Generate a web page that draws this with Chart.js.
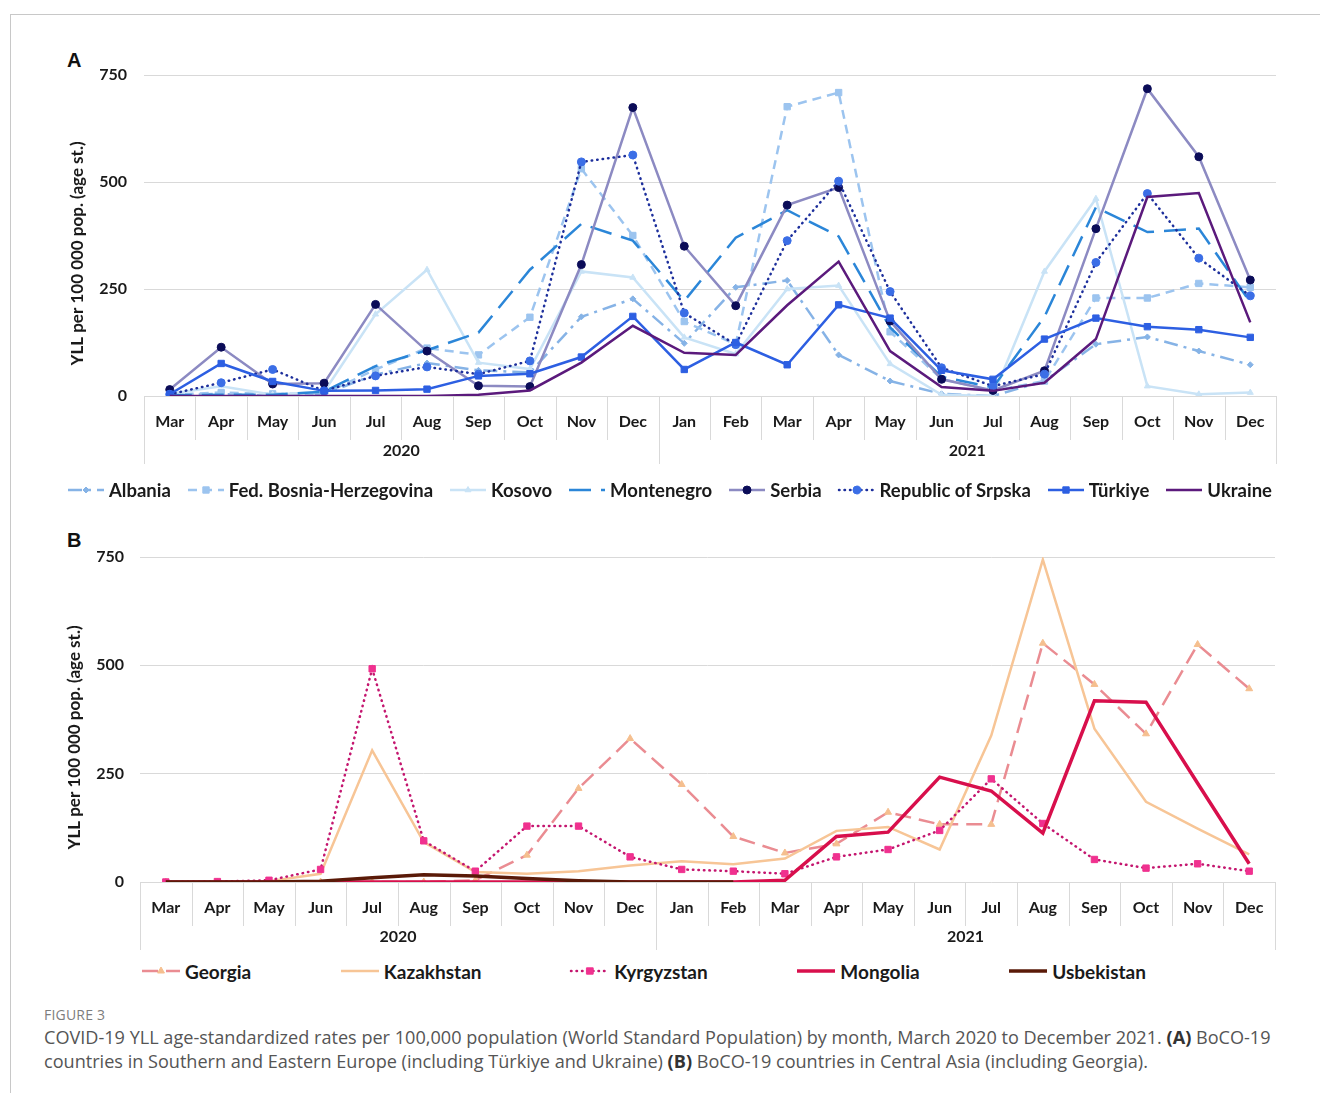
<!DOCTYPE html>
<html>
<head>
<meta charset="utf-8">
<title>COVID-19 YLL age-standardized rates by month</title>
<script src="https://cdn.jsdelivr.net/npm/chart.js@4.4.1/dist/chart.umd.min.js"></script>
<style>
  html, body { margin: 0; padding: 0; background: #fff; }
  body { width: 1320px; height: 1093px; position: relative; overflow: hidden; font-family: Lato, sans-serif; }
  .frame { position: absolute; left: 10px; top: 14px; width: 1320px; height: 1100px;
           border-left: 1px solid #c8c8c8; border-top: 1px solid #c8c8c8; }
  .panel { position: absolute; left: 0; width: 1320px; height: 440px; }
  .tag { position: absolute; font: bold 20px "Liberation Sans", Arial, sans-serif; line-height: 20px; color: #111; }
  .legend { position: absolute; display: flex; justify-content: space-between; align-items: center;
            height: 22px; font-family: Lato, sans-serif; font-weight: 700; color: #1a1a1a; }
  .item { display: flex; align-items: center; white-space: nowrap; }
  .item canvas { margin-right: 3px; }
  .fig { position: absolute; left: 44px; top: 1005px; font: 14px "Open Sans", sans-serif; color: #7d7d7d; letter-spacing: 0.2px; }
  .cap { position: absolute; left: 44px; top: 1025px; font: 18.1px/24px "Open Sans", sans-serif; color: #555; white-space: nowrap; }
  .cap b { color: #333; }
</style>
</head>
<body>
<div class="frame"></div>

<div class="tag" style="left:67px;top:50px;">A</div>
<div class="panel" style="top:40px;"><canvas id="chartA" width="1320" height="440"></canvas></div>
<div class="legend" id="legendA" style="left:66px;top:479px;width:1206px;font-size:18.5px;"></div>

<div class="tag" style="left:67px;top:530px;">B</div>
<div class="panel" style="top:520px;"><canvas id="chartB" width="1320" height="440"></canvas></div>
<div class="legend" id="legendB" style="left:140px;top:960px;width:1006px;font-size:19px;"></div>

<div class="fig">FIGURE 3</div>
<div class="cap">COVID-19 YLL age-standardized rates per 100,000 population (World Standard Population) by month, March 2020 to December 2021. <b>(A)</b> BoCO-19<br>countries in Southern and Eastern Europe (including Türkiye and Ukraine) <b>(B)</b> BoCO-19 countries in Central Asia (including Georgia).</div>

<script>
// ---- Category axis: months, grouped by year ----
const months = ['Mar','Apr','May','Jun','Jul','Aug','Sep','Oct','Nov','Dec',
                'Jan','Feb','Mar','Apr','May','Jun','Jul','Aug','Sep','Oct','Nov','Dec'];
const years = ['2020', '2021'];
const monthsPerYear = [10, 12];
const yTicks = [0, 250, 500, 750];
const yTitle = 'YLL per 100 000 pop. (age st.)';

// ---- Panel A: Southern and Eastern Europe ----
const albania    = [2, 5, 0, 5, 50, 77, 60, 55, 185, 227, 123, 254, 270, 96, 35, 5, 0, 35, 121, 138, 105, 73];
const fedBosnia  = [3, 8, 5, 5, 62, 112, 96, 184, 531, 375, 174, 121, 676, 709, 150, 40, 12, 35, 229, 229, 263, 254];
const kosovo     = [5, 23, 3, 10, 191, 295, 78, 63, 291, 277, 137, 98, 250, 258, 75, 3, 0, 291, 461, 23, 4, 8];
const montenegro = [2, 3, 3, 10, 70, 107, 148, 295, 402, 363, 222, 370, 434, 373, 160, 45, 20, 185, 441, 383, 391, 219];
const serbia     = [15, 114, 28, 30, 214, 105, 24, 22, 307, 674, 350, 211, 446, 487, 175, 39, 13, 59, 391, 718, 559, 271];
const srpska     = [4, 31, 62, 12, 47, 68, 51, 82, 547, 563, 194, 120, 363, 502, 244, 66, 23, 51, 312, 473, 322, 234];
const turkiye    = [4, 76, 34, 12, 13, 16, 47, 52, 91, 186, 62, 125, 73, 213, 182, 60, 39, 133, 182, 162, 155, 137];
const ukraine    = [0, 0, 0, 0, 0, 0, 3, 13, 78, 164, 101, 96, 212, 314, 105, 21, 12, 31, 133, 465, 474, 172];

// ---- Panel B: Central Asia (incl. Georgia) ----
const georgia    = [0, 0, 0, 0, 0, 0, 4, 62, 216, 331, 225, 105, 67, 88, 161, 133, 133, 551, 456, 342, 548, 446];
const kazakhstan = [0, 0, 2, 19, 304, 92, 23, 19, 25, 38, 48, 41, 54, 118, 127, 75, 338, 744, 354, 185, 123, 64];
const kyrgyzstan = [0, 1, 4, 29, 492, 95, 25, 129, 129, 58, 29, 25, 19, 58, 75, 119, 238, 135, 52, 32, 42, 25];
const mongolia   = [0, 0, 0, 0, 0, 0, 0, 0, 0, 0, 0, 0, 4, 105, 115, 242, 210, 113, 418, 415, 228, 42];
const uzbekistan = [0, 0, 0, 2, 10, 17, 14, 8, 3, 0, 0, 0, null, null, null, null, null, null, null, null, null, null];

// ---- Series styles ----
function line(label, data, color, extra) {
  return Object.assign({
    label, data,
    borderColor: color, backgroundColor: color,
    pointBackgroundColor: color, pointBorderColor: color,
    borderWidth: 2.5, tension: 0, pointRadius: 0, pointBorderWidth: 1,
    pointHoverRadius: 0, fill: false, spanGaps: false
  }, extra || {});
}

const seriesA = [
  line('Albania', albania, '#86b3e6', { borderDash: [14, 6, 3, 6], pointStyle: 'rectRot', pointRadius: 3 }),
  line('Fed. Bosnia-Herzegovina', fedBosnia, '#9cc4ef', { borderDash: [9, 6], pointStyle: 'rect', pointRadius: 4.5 }),
  line('Kosovo', kosovo, '#c9e3f6', { pointStyle: 'triangle', pointRadius: 3.5 }),
  line('Montenegro', montenegro, '#2b86d8', { borderDash: [22, 10] }),
  line('Serbia', serbia, '#8c8ac2', { pointStyle: 'circle', pointRadius: 4, pointBackgroundColor: '#0b0c58', pointBorderColor: '#0b0c58' }),
  line('Republic of Srpska', srpska, '#1d2f9c', { borderDash: [0.5, 5], borderCapStyle: 'round', pointStyle: 'circle', pointRadius: 4,
       pointBackgroundColor: '#3b6ee6', pointBorderColor: '#3b6ee6' }),
  line('Türkiye', turkiye, '#2d5fe2', { pointStyle: 'rect', pointRadius: 4.5 }),
  line('Ukraine', ukraine, '#5b1a7c', {})
];

const seriesB = [
  line('Georgia', georgia, '#ea8c92', { borderDash: [16, 8], pointStyle: 'triangle', pointRadius: 4,
       pointBackgroundColor: '#f5bf8f', pointBorderColor: '#f5bf8f' }),
  line('Kazakhstan', kazakhstan, '#f7c596', {}),
  line('Kyrgyzstan', kyrgyzstan, '#c4166f', { borderDash: [0.5, 5], borderCapStyle: 'round', pointStyle: 'rect', pointRadius: 4.5,
       pointBackgroundColor: '#f0318f', pointBorderColor: '#f0318f' }),
  line('Mongolia', mongolia, '#d80f4c', { borderWidth: 3.5 }),
  line('Usbekistan', uzbekistan, '#5a1a08', { borderWidth: 3.5 })
];

// later series are drawn on top
[seriesA, seriesB].forEach(list => list.forEach((ds, i) => { ds.order = list.length - 1 - i; }));

// ---- Two-level category axis, y-axis title ----
const axisDecor = {
  id: 'axisDecor',
  afterDraw(chart, args, opts) {
    const { ctx, chartArea: ca, scales: { x } } = chart;
    const base = ca.bottom;
    const edges = [0];
    monthsPerYear.forEach(n => edges.push(edges[edges.length - 1] + n));
    ctx.save();
    ctx.strokeStyle = '#d9d9d9';
    ctx.lineWidth = 1;
    for (let i = 0; i <= months.length; i++) {
      const px = Math.round(x.getPixelForValue(i - 0.5)) + 0.5;
      const isYearEdge = edges.includes(i);
      ctx.beginPath();
      ctx.moveTo(px, base);
      ctx.lineTo(px, base + (isYearEdge ? opts.yearDepth : opts.monthDepth));
      ctx.stroke();
    }
    ctx.fillStyle = '#1a1a1a';
    ctx.font = '700 16px Lato, sans-serif';
    ctx.textAlign = 'center';
    ctx.textBaseline = 'middle';
    years.forEach((yr, k) => {
      const a = x.getPixelForValue(edges[k] - 0.5);
      const b = x.getPixelForValue(edges[k + 1] - 0.5);
      ctx.fillText(yr, (a + b) / 2, base + opts.yearOffset);
    });
    ctx.translate(opts.titleX, (ca.top + ca.bottom) / 2 + opts.titleShift);
    ctx.rotate(-Math.PI / 2);
    ctx.font = '700 17px Lato, sans-serif';
    ctx.fillText(yTitle, 0, 0);
    ctx.restore();
  }
};

function makeChart(id, datasets, geo) {
  return new Chart(document.getElementById(id), {
    type: 'line',
    data: { labels: months, datasets },
    plugins: [axisDecor],
    options: {
      responsive: false,
      animation: false,
      events: [],
      layout: { padding: { top: geo.top, right: geo.right, left: 0, bottom: 0 } },
      plugins: {
        legend: { display: false },
        tooltip: { enabled: false },
        axisDecor: { titleX: geo.titleX, titleShift: 18, monthDepth: 44, yearDepth: 68, yearOffset: 55 }
      },
      scales: {
        x: {
          type: 'category',
          offset: true,
          grid: { display: false },
          border: { display: false },
          ticks: { autoSkip: false, maxRotation: 0, padding: 8, color: '#1a1a1a',
                   font: { family: 'Lato', weight: 700, size: 16 } },
          afterFit(s) { s.height = geo.xHeight; }
        },
        y: {
          min: 0, max: 750,
          afterBuildTicks(s) { s.ticks = yTicks.map(v => ({ value: v })); },
          grid: { color: '#d9d9d9', lineWidth: 1, drawTicks: false },
          border: { display: false },
          ticks: { padding: geo.tickPad, color: '#1a1a1a',
                   font: { family: 'Lato', weight: 700, size: 16 } },
          afterFit(s) { s.width = geo.yWidth; }
        }
      }
    }
  });
}

const chartA = makeChart('chartA', seriesA, { top: 35, right: 44, xHeight: 84, yWidth: 144, tickPad: 17, titleX: 78 });
const chartB = makeChart('chartB', seriesB, { top: 37, right: 45, xHeight: 78, yWidth: 140, tickPad: 16, titleX: 75 });

// ---- Legends built from the chart datasets ----
function buildLegend(chart, el, swatchW) {
  chart.data.datasets.forEach(ds => {
    const item = document.createElement('div');
    item.className = 'item';
    const c = document.createElement('canvas');
    c.width = swatchW; c.height = 14;
    const g = c.getContext('2d');
    g.strokeStyle = ds.borderColor;
    g.lineWidth = ds.borderWidth;
    g.lineCap = ds.borderCapStyle || 'butt';
    g.setLineDash(ds.borderDash || []);
    g.beginPath(); g.moveTo(2, 7); g.lineTo(swatchW - 2, 7); g.stroke();
    if (ds.pointRadius > 0) {
      g.setLineDash([]);
      g.fillStyle = ds.pointBackgroundColor;
      g.strokeStyle = ds.pointBorderColor;
      g.lineWidth = 1;
      Chart.helpers.drawPoint(g, { pointStyle: ds.pointStyle, radius: ds.pointRadius, rotation: 0, borderWidth: 1 }, swatchW / 2, 7);
    }
    const t = document.createElement('span');
    t.textContent = ds.label;
    item.appendChild(c);
    item.appendChild(t);
    el.appendChild(item);
  });
}
buildLegend(chartA, document.getElementById('legendA'), 40);
buildLegend(chartB, document.getElementById('legendB'), 42);
</script>
</body>
</html>
